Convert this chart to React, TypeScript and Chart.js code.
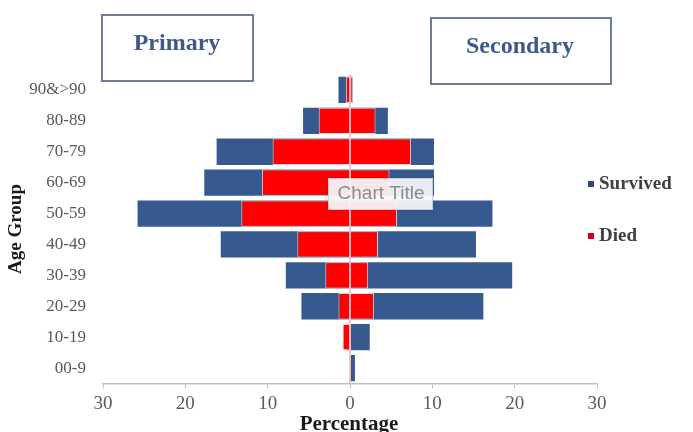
import React, { useEffect, useRef } from "react";
import { Chart, registerables } from "chart.js";

Chart.register(...registerables);

// Age groups, top to bottom
const ageGroups = ["90&>90", "80-89", "70-79", "60-69", "50-59", "40-49", "30-39", "20-29", "10-19", "00-9"];

// Percentages per age group (primary side is drawn to the left)
const primarySurvived = [1.4, 5.7, 16.2, 17.7, 25.8, 15.7, 7.8, 5.9, 0.4, 0];
const primaryDied = [0.5, 3.8, 9.4, 10.7, 13.2, 6.4, 3.0, 1.4, 0.9, 0];
const secondarySurvived = [0.3, 4.6, 10.2, 10.2, 17.3, 15.3, 19.7, 16.2, 2.4, 0.6];
const secondaryDied = [0.3, 3.1, 7.4, 4.8, 5.7, 3.4, 2.2, 2.9, 0, 0];

const xTicks = [-30, -20, -10, 0, 10, 20, 30];

const BLUE = "#36598f";
const RED = "#ff0000";
const SERIF = "'Liberation Serif', 'Times New Roman', serif";

const decorations = {
  id: "decorations",
  afterDatasetsDraw(chart: any) {
    const { ctx, chartArea, scales } = chart;
    const x0 = scales.x.getPixelForValue(0);
    ctx.save();
    // zero line across the bars
    ctx.strokeStyle = "rgba(255, 185, 190, 0.9)";
    ctx.lineWidth = 2;
    ctx.beginPath();
    ctx.moveTo(x0, chartArea.top);
    ctx.lineTo(x0, chartArea.bottom);
    ctx.stroke();
    ctx.restore();
  },
  afterDraw(chart: any) {
    const { ctx } = chart;
    ctx.save();

    // side headings in framed boxes
    const box = (x: number, y: number, w: number, h: number, label: string, tx: number, ty: number) => {
      ctx.fillStyle = "#ffffff";
      ctx.fillRect(x, y, w, h);
      ctx.strokeStyle = "#6f7c98";
      ctx.lineWidth = 2;
      ctx.strokeRect(x, y, w, h);
      ctx.fillStyle = "#3d5a8a";
      ctx.font = `bold 24px ${SERIF}`;
      ctx.textAlign = "center";
      ctx.textBaseline = "middle";
      ctx.fillText(label, tx, ty);
    };
    box(102, 15, 151, 66, "Primary", 177, 44);
    box(431, 18, 180, 66, "Secondary", 520, 47);

    // chart title placeholder
    ctx.shadowColor = "rgba(0,0,0,0.15)";
    ctx.shadowBlur = 3;
    ctx.fillStyle = "rgba(250, 250, 252, 0.92)";
    ctx.fillRect(328, 178, 105, 32);
    ctx.shadowBlur = 0;
    ctx.strokeStyle = "rgba(200, 200, 205, 0.9)";
    ctx.lineWidth = 1;
    ctx.strokeRect(328.5, 178.5, 104, 31);
    ctx.fillStyle = "#8c8c8c";
    ctx.font = "19px 'Liberation Sans', Arial, sans-serif";
    ctx.textAlign = "center";
    ctx.textBaseline = "middle";
    ctx.fillText("Chart Title", 381, 194);

    // legend
    const legend = [
      { label: "Survived", color: "#2f4a78", y: 184 },
      { label: "Died", color: "#d0001a", y: 236 },
    ];
    ctx.font = `bold 19px ${SERIF}`;
    ctx.textAlign = "left";
    for (const item of legend) {
      ctx.fillStyle = item.color;
      ctx.fillRect(588, item.y - 3, 6, 6);
      ctx.fillStyle = "#404040";
      ctx.fillText(item.label, 599, item.y);
    }

    // x axis title
    ctx.fillStyle = "#1a1a1a";
    ctx.font = `bold 21px ${SERIF}`;
    ctx.textAlign = "center";
    ctx.textBaseline = "alphabetic";
    ctx.fillText("Percentage", 349, 430);
    ctx.restore();
  },
};

export default function App() {
  const canvasRef = useRef<HTMLCanvasElement | null>(null);

  useEffect(() => {
    const canvas = canvasRef.current;
    if (!canvas) return;
    const common = { grouped: false, barPercentage: 0.85, categoryPercentage: 1 };
    const chart = new Chart(canvas, {
      type: "bar",
      data: {
        labels: ageGroups,
        datasets: [
          { label: "Survived", data: primarySurvived.map((v) => -v), backgroundColor: BLUE, borderWidth: 0, order: 2, ...common },
          { label: "Survived", data: secondarySurvived, backgroundColor: BLUE, borderWidth: 0, order: 2, ...common },
          { label: "Died", data: primaryDied.map((v) => -v), backgroundColor: RED, borderColor: "rgba(255,225,225,0.9)", borderWidth: 1, order: 1, ...common },
          { label: "Died", data: secondaryDied, backgroundColor: RED, borderColor: "rgba(255,225,225,0.9)", borderWidth: 1, order: 1, ...common },
        ],
      },
      options: {
        indexAxis: "y",
        responsive: false,
        animation: false,
        events: [],
        layout: { padding: { top: 74.5, right: 96, left: 0, bottom: 0 } },
        plugins: { legend: { display: false }, tooltip: { enabled: false }, title: { display: false } },
        scales: {
          x: {
            type: "linear",
            min: -30,
            max: 30,
            afterBuildTicks: (scale: any) => {
              scale.ticks = xTicks.map((value) => ({ value }));
            },
            afterFit: (scale: any) => {
              scale.height = 48.5;
            },
            ticks: {
              callback: (v: any) => String(Math.abs(Number(v))),
              color: "#595959",
              font: { family: SERIF, size: 19 },
              padding: 4,
              maxRotation: 0,
            },
            grid: { drawOnChartArea: false, tickLength: 5, color: "#c0c0c0", lineWidth: 1 },
            border: { display: true, color: "#bfbfbf", width: 1.5 },
          },
          y: {
            type: "category",
            afterFit: (scale: any) => {
              scale.width = 103;
            },
            ticks: {
              color: "#595959",
              font: { family: SERIF, size: 17 },
              padding: 17,
            },
            grid: { display: false, drawTicks: false },
            border: { display: false },
            title: {
              display: true,
              text: "Age Group",
              color: "#1a1a1a",
              font: { family: SERIF, size: 19, weight: "bold" },
              padding: { top: 5, bottom: 0 },
            },
          },
        },
      },
      plugins: [decorations],
    } as any);
    return () => chart.destroy();
  }, []);

  return (
    <div style={{ position: "fixed", left: 0, top: 0, width: 693, height: 432, background: "#fff", overflow: "hidden" }}>
      <canvas ref={canvasRef} width={693} height={432} style={{ display: "block" }} />
    </div>
  );
}
